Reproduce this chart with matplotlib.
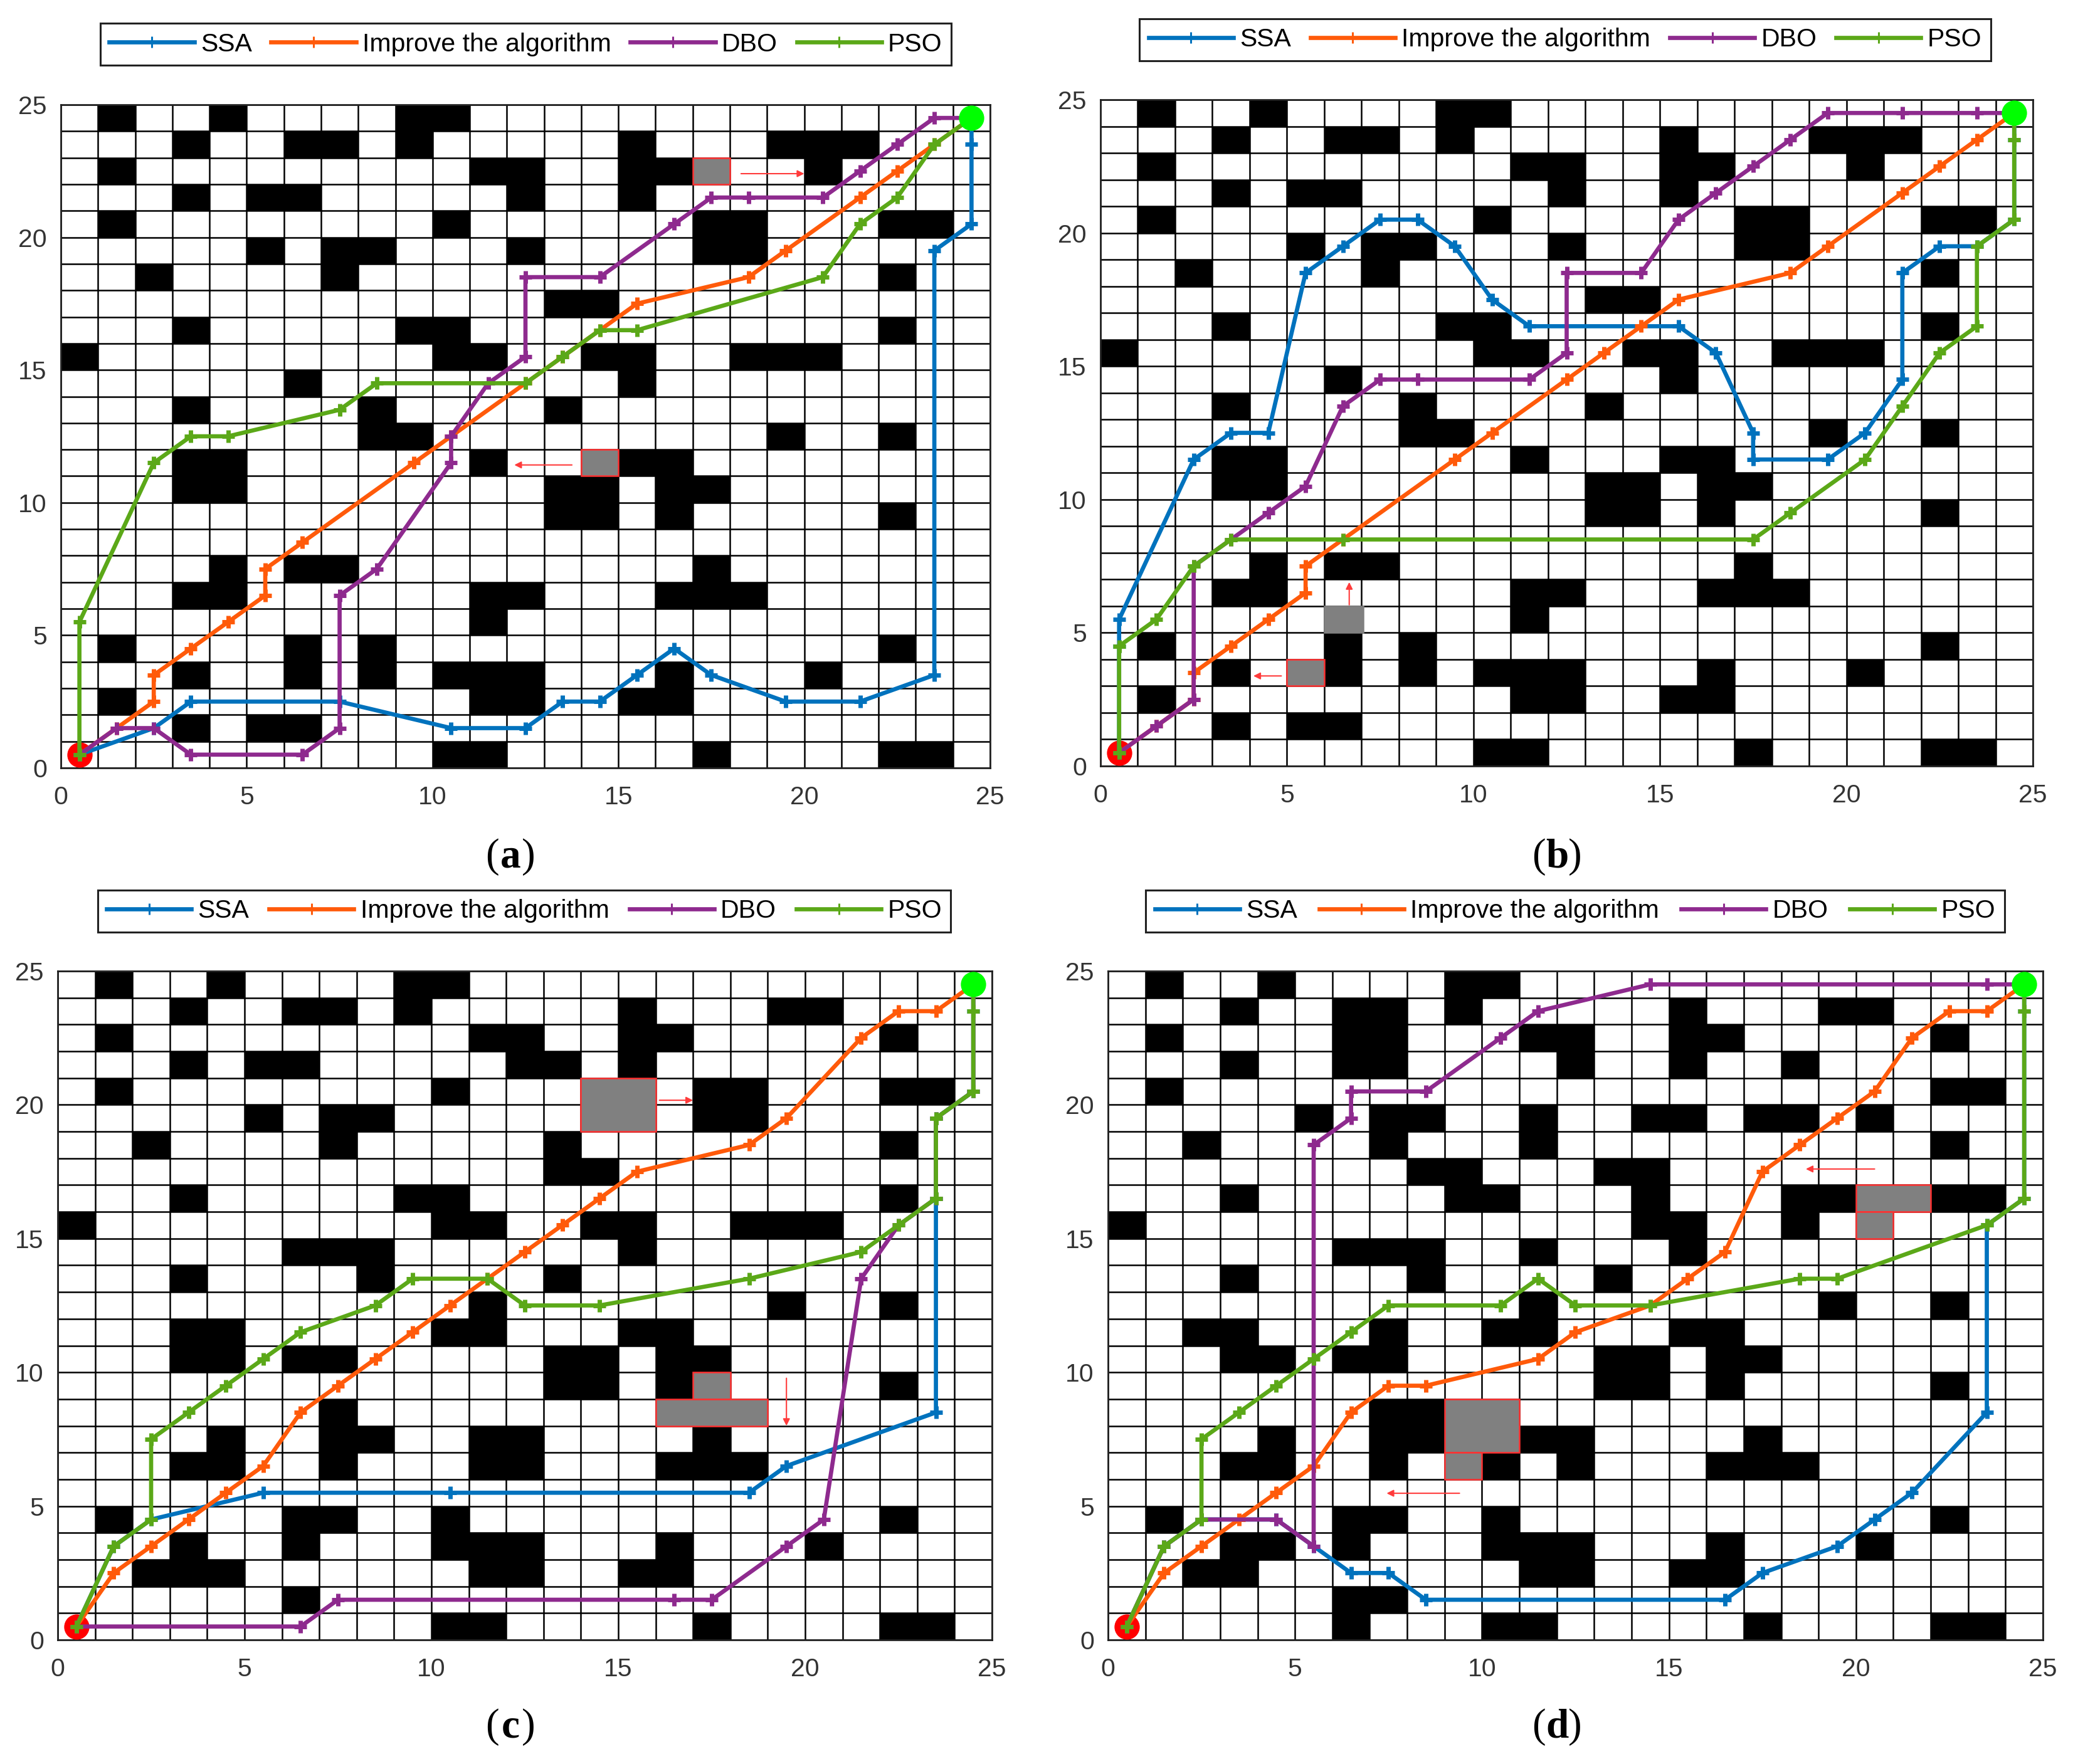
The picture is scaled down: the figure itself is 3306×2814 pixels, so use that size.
# -*- coding: utf-8 -*-
import matplotlib
matplotlib.use('Agg')
import matplotlib.pyplot as plt
from matplotlib.patches import Rectangle

plt.rcParams['font.family'] = ['Liberation Sans', 'DejaVu Sans']

W, H = 3306, 2814

# black cells per row, row 24 (top) first
map_ab = [
    [1, 4, 9, 10],
    [3, 6, 7, 9, 15, 19, 20, 21],
    [1, 11, 12, 15, 16, 20],
    [3, 5, 6, 12, 15],
    [1, 10, 17, 18, 22, 23],
    [5, 7, 8, 12, 17, 18],
    [2, 7, 22],
    [13, 14],
    [3, 9, 10, 22],
    [0, 10, 11, 14, 15, 18, 19, 20],
    [6, 15],
    [3, 8, 13],
    [8, 9, 19, 22],
    [3, 4, 11, 15, 16],
    [3, 4, 13, 14, 16, 17],
    [13, 14, 16, 22],
    [],
    [4, 6, 7, 17],
    [3, 4, 11, 12, 16, 17, 18],
    [11],
    [1, 6, 8, 22],
    [3, 6, 8, 10, 11, 12, 16, 20],
    [1, 11, 12, 15, 16],
    [3, 5, 6],
    [10, 11, 17, 22, 23],
]
map_c = [
    [1, 4, 9, 10],
    [3, 6, 7, 9, 15, 19, 20],
    [1, 11, 12, 15, 16, 22],
    [3, 5, 6, 12, 13, 15],
    [1, 10, 17, 18, 22, 23],
    [5, 7, 8, 17, 18],
    [2, 7, 13, 22],
    [13, 14],
    [3, 9, 10, 22],
    [0, 10, 11, 14, 15, 18, 19, 20],
    [6, 7, 8, 15],
    [3, 8, 13],
    [11, 19, 22],
    [3, 4, 10, 11, 15, 16],
    [3, 4, 6, 7, 13, 14, 16, 17],
    [13, 14, 16, 22],
    [7],
    [4, 7, 8, 11, 12, 17],
    [3, 4, 7, 11, 12, 16, 17, 18],
    [],
    [1, 6, 7, 10, 22],
    [3, 6, 10, 11, 12, 16, 20],
    [2, 3, 4, 11, 12, 15, 16],
    [6],
    [10, 11, 17, 22, 23],
]
map_d = [
    [1, 4, 9, 10],
    [3, 6, 7, 9, 15, 19, 20],
    [1, 6, 7, 11, 12, 15, 16, 22],
    [3, 6, 7, 12, 15, 18],
    [1, 22, 23],
    [5, 7, 8, 11, 14, 15, 17, 18, 20],
    [2, 7, 11, 22],
    [8, 9, 13, 14],
    [3, 9, 10, 14, 18, 19, 22, 23],
    [0, 14, 15, 18],
    [6, 7, 8, 11, 15],
    [3, 8, 13],
    [11, 19, 22],
    [2, 3, 7, 10, 11, 15, 16],
    [3, 4, 6, 7, 13, 14, 16, 17],
    [13, 14, 16, 22],
    [7, 8],
    [4, 7, 8, 11, 12, 17],
    [3, 4, 7, 10, 12, 16, 17, 18],
    [],
    [1, 6, 7, 10, 22],
    [3, 4, 6, 10, 11, 12, 16, 20],
    [2, 3, 11, 12, 15, 16],
    [6, 7],
    [6, 10, 11, 17, 22, 23],
]

# new obstacles (x, y, w, h, border)
gray_a = [(17, 22, 1, 1, '#FF3030'), (14, 11, 1, 1, '#FF3030')]
gray_b = [(6, 5, 1.05, 1, '#808080'), (5, 3, 1, 1, '#FF3030')]
gray_c = [(14, 19, 2, 2, '#FF3030'), (17, 9, 1, 1, '#FF3030'), (16, 8, 3, 1, '#FF3030')]
gray_d = [(20, 16, 2, 1, '#FF3030'), (20, 15, 1, 1, '#FF3030'), (9, 7, 2, 2, '#FF3030'), (9, 6, 1, 1, '#FF3030')]

# arrows (x from, y from, x to, y to)
arrows_a = [(18.3, 22.4, 20, 22.4), (13.75, 11.42, 12.2, 11.42)]
arrows_b = [(6.67, 6.05, 6.67, 6.9), (4.85, 3.38, 4.1, 3.38)]
arrows_c = [(16.1, 20.17, 17, 20.17), (19.5, 9.78, 19.5, 8.0)]
arrows_d = [(20.5, 17.6, 18.66, 17.6), (9.4, 5.48, 7.45, 5.48)]

ssa_a = [(0.5, 0.5), (2.5, 1.5), (3.5, 2.5), (7.5, 2.5), (10.5, 1.5), (12.5, 1.5), (13.5, 2.5), (14.5, 2.5), (15.5, 3.5),
         (16.5, 4.5), (17.5, 3.5), (19.5, 2.5), (21.5, 2.5), (23.5, 3.5), (23.5, 19.5), (24.5, 20.5), (24.5, 23.5), (24.5, 24.5)]
imp_a = [(0.5, 0.5), (1.5, 1.5), (2.5, 2.5), (2.5, 3.5), (3.5, 4.5), (4.5, 5.5), (5.5, 6.5), (5.5, 7.5), (6.5, 8.5), (9.5, 11.5),
         (10.5, 12.5), (12.5, 14.5), (13.5, 15.5), (14.5, 16.5), (15.5, 17.5), (18.5, 18.5), (19.5, 19.5), (21.5, 21.5),
         (22.5, 22.5), (23.5, 23.5), (24.5, 24.5)]
dbo_a = [(0.5, 0.5), (1.5, 1.5), (2.5, 1.5), (3.5, 0.5), (6.5, 0.5), (7.5, 1.5), (7.5, 6.5), (8.5, 7.5), (10.5, 11.5), (10.5, 12.5),
         (11.5, 14.5), (12.5, 15.5), (12.5, 18.5), (14.5, 18.5), (16.5, 20.5), (17.5, 21.5), (18.5, 21.5), (20.5, 21.5),
         (21.5, 22.5), (22.5, 23.5), (23.5, 24.5), (24.5, 24.5)]
pso_a = [(0.5, 0.5), (0.5, 5.5), (2.5, 11.5), (3.5, 12.5), (4.5, 12.5), (7.5, 13.5), (8.5, 14.5), (12.5, 14.5), (13.5, 15.5),
         (14.5, 16.5), (15.5, 16.5), (20.5, 18.5), (21.5, 20.5), (22.5, 21.5), (23.5, 23.5), (24.5, 24.5)]

ssa_b = [(0.5, 0.5), (0.5, 4.5), (0.5, 5.5), (2.5, 11.5), (3.5, 12.5), (4.5, 12.5), (5.5, 18.5), (6.5, 19.5), (7.5, 20.5), (8.5, 20.5),
         (9.5, 19.5), (10.5, 17.5), (11.5, 16.5), (15.5, 16.5), (16.5, 15.5), (17.5, 12.5), (17.5, 11.5), (19.5, 11.5), (20.5, 12.5),
         (21.5, 14.5), (21.5, 18.5), (22.5, 19.5), (23.5, 19.5), (24.5, 20.5), (24.5, 23.5), (24.5, 24.5)]
imp_b = imp_a
dbo_b = [(0.5, 0.5), (1.5, 1.5), (2.5, 2.5), (2.5, 7.5), (3.5, 8.5), (4.5, 9.5), (5.5, 10.5), (6.5, 13.5), (7.5, 14.5), (8.5, 14.5),
         (11.5, 14.5), (12.5, 15.5), (12.5, 18.5), (14.5, 18.5), (15.5, 20.5), (16.5, 21.5), (17.5, 22.5), (18.5, 23.5), (19.5, 24.5),
         (21.5, 24.5), (23.5, 24.5), (24.5, 24.5)]
pso_b = [(0.5, 0.5), (0.5, 4.5), (1.5, 5.5), (2.5, 7.5), (3.5, 8.5), (6.5, 8.5), (17.5, 8.5), (18.5, 9.5), (20.5, 11.5), (21.5, 13.5),
         (22.5, 15.5), (23.5, 16.5), (23.5, 19.5), (24.5, 20.5), (24.5, 23.5), (24.5, 24.5)]

ssa_c = [(0.5, 0.5), (1.5, 3.5), (2.5, 4.5), (5.5, 5.5), (10.5, 5.5), (18.5, 5.5), (19.5, 6.5), (23.5, 8.5), (23.5, 16.5), (23.5, 19.5),
         (24.5, 20.5), (24.5, 23.5), (24.5, 24.5)]
imp_c = [(0.5, 0.5), (1.5, 2.5), (2.5, 3.5), (3.5, 4.5), (4.5, 5.5), (5.5, 6.5), (6.5, 8.5), (7.5, 9.5), (8.5, 10.5), (9.5, 11.5),
         (10.5, 12.5), (11.5, 13.5), (12.5, 14.5), (13.5, 15.5), (14.5, 16.5), (15.5, 17.5), (18.5, 18.5), (19.5, 19.5), (21.5, 22.5),
         (22.5, 23.5), (23.5, 23.5), (24.5, 24.5)]
dbo_c = [(0.5, 0.5), (6.5, 0.5), (7.5, 1.5), (16.5, 1.5), (17.5, 1.5), (19.5, 3.5), (20.5, 4.5), (21.5, 13.5), (22.5, 15.5), (23.5, 16.5),
         (23.5, 19.5), (24.5, 20.5), (24.5, 24.5)]
pso_c = [(0.5, 0.5), (1.5, 3.5), (2.5, 4.5), (2.5, 7.5), (3.5, 8.5), (4.5, 9.5), (5.5, 10.5), (6.5, 11.5), (8.5, 12.5), (9.5, 13.5),
         (11.5, 13.5), (12.5, 12.5), (14.5, 12.5), (18.5, 13.5), (21.5, 14.5), (22.5, 15.5), (23.5, 16.5), (23.5, 19.5), (24.5, 20.5),
         (24.5, 23.5), (24.5, 24.5)]

ssa_d = [(0.5, 0.5), (1.5, 3.5), (2.5, 4.5), (4.5, 4.5), (5.5, 3.5), (6.5, 2.5), (7.5, 2.5), (8.5, 1.5), (16.5, 1.5), (17.5, 2.5),
         (19.5, 3.5), (20.5, 4.5), (21.5, 5.5), (23.5, 8.5), (23.5, 15.5), (24.5, 16.5), (24.5, 23.5), (24.5, 24.5)]
imp_d = [(0.5, 0.5), (1.5, 2.5), (2.5, 3.5), (3.5, 4.5), (4.5, 5.5), (5.5, 6.5), (6.5, 8.5), (7.5, 9.5), (8.5, 9.5), (11.5, 10.5),
         (12.5, 11.5), (14.5, 12.5), (15.5, 13.5), (16.5, 14.5), (17.5, 17.5), (18.5, 18.5), (19.5, 19.5), (20.5, 20.5), (21.5, 22.5),
         (22.5, 23.5), (23.5, 23.5), (24.5, 24.5)]
dbo_d = [(0.5, 0.5), (1.5, 3.5), (2.5, 4.5), (4.5, 4.5), (5.5, 3.5), (5.5, 18.5), (6.5, 19.5), (6.5, 20.5), (8.5, 20.5), (10.5, 22.5),
         (11.5, 23.5), (14.5, 24.5), (23.5, 24.5), (24.5, 24.5)]
pso_d = [(0.5, 0.5), (1.5, 3.5), (2.5, 4.5), (2.5, 7.5), (3.5, 8.5), (4.5, 9.5), (5.5, 10.5), (6.5, 11.5), (7.5, 12.5), (10.5, 12.5),
         (11.5, 13.5), (12.5, 12.5), (14.5, 12.5), (18.5, 13.5), (19.5, 13.5), (23.5, 15.5), (24.5, 16.5), (24.5, 23.5), (24.5, 24.5)]

names = ['SSA', 'Improve the algorithm', 'DBO', 'PSO']
colors = ['#0072BD', '#FF5A0A', '#8E2A8E', '#5BA818']
ticks = [0, 5, 10, 15, 20, 25]


def draw_panel(box, legend_box, col_gap, caption, cap_xy, cells, grays, arrows, paths):
    # box and legend_box are (left, right, top, bottom) in pixels of the picture
    l, r, t, b = box
    ax = fig.add_axes([l / W, 1 - b / H, (r - l) / W, (b - t) / H])
    ax.set_xlim(0, 25)
    ax.set_ylim(0, 25)
    ax.set_xticks(ticks)
    ax.set_yticks(ticks)
    ax.set_xticks(range(26), minor=True)
    ax.set_yticks(range(26), minor=True)
    ax.grid(which='both', color='black', lw=1.8, zorder=1)
    ax.set_axisbelow(True)
    ax.tick_params(which='both', length=0)
    ax.tick_params(labelsize=29.5, labelcolor='#333333')
    ax.tick_params(axis='x', pad=20)
    ax.tick_params(axis='y', pad=16)
    for s in ax.spines.values():
        s.set_linewidth(2)
        s.set_color('#222222')

    for i, row in enumerate(cells):
        for c in row:
            ax.add_patch(Rectangle((c, 24 - i), 1, 1, fc='black', ec='black', lw=0.5, zorder=2))
    for g in grays:
        ax.add_patch(Rectangle((g[0], g[1]), g[2], g[3], fc='#808080', ec=g[4], lw=1.8, zorder=2.5))
    for a in arrows:
        ax.annotate('', xy=(a[2], a[3]), xytext=(a[0], a[1]), zorder=3,
                    arrowprops=dict(arrowstyle='-|>', color='#FF3B3B', lw=1.5, mutation_scale=16, shrinkA=0, shrinkB=0))

    ax.plot(0.5, 0.5, 'o', color='#FF0000', ms=29, mec='none', zorder=3.5, clip_on=False)
    handles = []
    for n, (p, col) in enumerate(zip(paths, colors)):
        xs = [q[0] for q in p]
        ys = [q[1] for q in p]
        ln, = ax.plot(xs, ys, color=col, lw=4.8, marker='+', ms=14, mew=5, zorder=4 + n * 0.1, label=names[n])
        handles.append(ln)
    ax.plot(24.5, 24.5, 'o', color='#00FF00', ms=29, mec='none', zorder=5, clip_on=False)

    ll, lr, lt, lb = legend_box
    leg = fig.legend(handles=handles, loc='center', ncol=4, fontsize=29.5,
                     bbox_to_anchor=((ll + lr) / 2 / W, 1 - (lt + lb) / 2 / H),
                     fancybox=False, framealpha=1, edgecolor='#222222', handlelength=3.3,
                     handletextpad=0.25, columnspacing=col_gap, borderpad=0.35, borderaxespad=0)
    leg.get_frame().set_linewidth(2.2)
    for h in leg.legend_handles:
        h.set_markeredgewidth(2.2)
        h.set_markersize(13)

    # caption, bold letter between plain brackets
    cx, cy = cap_xy
    fig.text((cx - 18) / W, 1 - cy / H, '(', family='Liberation Serif', fontsize=47, ha='right', va='baseline')
    fig.text(cx / W, 1 - cy / H, caption, family='Liberation Serif', fontsize=47, weight='bold', ha='center', va='baseline')
    fig.text((cx + 18) / W, 1 - cy / H, ')', family='Liberation Serif', fontsize=47, ha='left', va='baseline')


fig = plt.figure(figsize=(W / 100, H / 100), dpi=100, facecolor='white')

draw_panel((97, 1579, 167, 1225), (159, 1518, 36, 105), 0.75, 'a', (814, 1383), map_ab, gray_a, arrows_a, [ssa_a, imp_a, dbo_a, pso_a])
draw_panel((1755, 3242, 159, 1222), (1815, 3177, 31, 96), 0.75, 'b', (2483, 1383), map_ab, gray_b, arrows_b, [ssa_b, imp_b, dbo_b, pso_b])
draw_panel((92, 1582, 1549, 2616), (152, 1520, 1422, 1485), 0.78, 'c', (814, 2771), map_c, gray_c, arrows_c, [ssa_c, imp_c, dbo_c, pso_c])
draw_panel((1767, 3258, 1549, 2616), (1826, 3198, 1422, 1485), 0.85, 'd', (2483, 2771), map_d, gray_d, arrows_d, [ssa_d, imp_d, dbo_d, pso_d])

fig.savefig('out.png', dpi=100)
